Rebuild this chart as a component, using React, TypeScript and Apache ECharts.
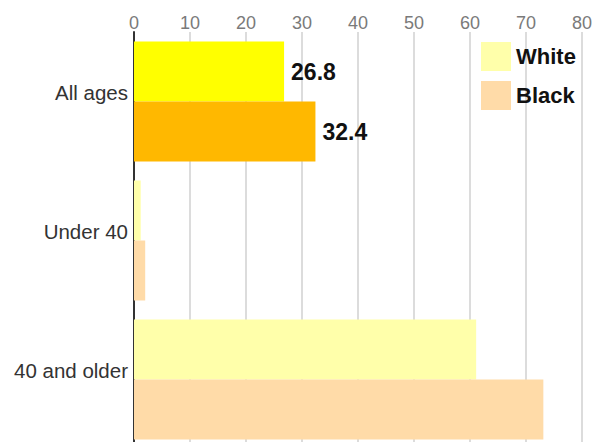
import React, { useEffect, useRef } from "react";
import * as echarts from "echarts";

const categories = ["All ages", "Under 40", "40 and older"];
const whiteValues = [26.8, 1.2, 61.1];
const blackValues = [32.4, 2.0, 73.1];
const xTicks = { min: 0, max: 80, interval: 10 };

const FONT = "'Liberation Sans', Arial, sans-serif";

export default function App() {
  const ref = useRef<HTMLDivElement>(null);
  useEffect(() => {
    if (!ref.current) return;
    const chart = echarts.init(ref.current, undefined, { renderer: "svg" });
    const label = {
      show: true,
      position: "right",
      distance: 7,
      fontFamily: FONT,
      fontSize: 23,
      fontWeight: "bold",
      color: "#111",
    };
    chart.setOption({
      animation: false,
      textStyle: { fontFamily: FONT },
      grid: { left: 134, top: 32, width: 448, height: 417 },
      legend: {
        orient: "vertical",
        left: 481,
        top: 42,
        padding: 0,
        icon: "rect",
        itemWidth: 30,
        itemHeight: 29,
        itemGap: 10,
        textStyle: { fontFamily: FONT, fontSize: 22, fontWeight: "bold", color: "#111" },
        data: ["White", "Black"],
      },
      xAxis: {
        type: "value",
        position: "top",
        min: xTicks.min,
        max: xTicks.max,
        interval: xTicks.interval,
        axisLine: { show: false },
        axisTick: { show: false },
        axisLabel: { fontFamily: FONT, fontSize: 18, color: "#7a7a7a", margin: 0 },
        splitLine: { show: true, lineStyle: { color: "#dcdcdc", width: 2 } },
      },
      yAxis: {
        type: "category",
        inverse: true,
        data: categories,
        axisLine: { show: true, lineStyle: { color: "#333", width: 2 } },
        axisTick: { show: false },
        axisLabel: {
          fontFamily: FONT,
          fontSize: 20.5,
          color: "#333",
          margin: 6,
          verticalAlign: "bottom",
          lineHeight: 18,
        },
      },
      series: [
        {
          name: "White",
          type: "bar",
          barWidth: 60,
          barGap: "0%",
          itemStyle: { color: "#FFFFAA" },
          data: whiteValues.map((v, i) =>
            i === 0 ? { value: v, itemStyle: { color: "#FFFF00" }, label } : v
          ),
        },
        {
          name: "Black",
          type: "bar",
          barWidth: 60,
          barGap: "0%",
          itemStyle: { color: "#FFDBA8" },
          data: blackValues.map((v, i) =>
            i === 0 ? { value: v, itemStyle: { color: "#FFB800" }, label } : v
          ),
        },
      ],
    });
    return () => chart.dispose();
  }, []);
  return (
    <div
      ref={ref}
      style={{ position: "fixed", left: 0, top: 0, width: 595, height: 470, background: "#fff" }}
    />
  );
}
